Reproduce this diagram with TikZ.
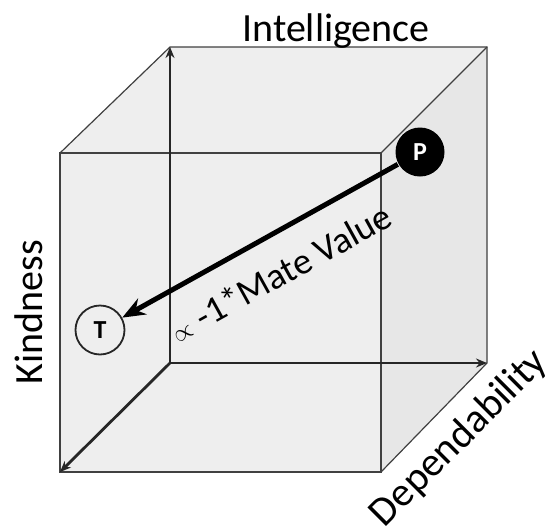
\documentclass[tikz,border=0pt]{standalone}
\usepackage{fontspec}
\setmainfont{Carlito}
\usetikzlibrary{arrows.meta, positioning}
\definecolor{edgegray}{rgb}{0.25, 0.25, 0.25}
\tikzstyle{cubeedge} = [line width=1.2pt, draw=edgegray]
\tikzstyle{axis} = [line width=2.8pt, draw=black!85, -{Stealth[length=11pt, width=9pt]}]
\tikzstyle{arrow} = [line width=5pt, -{Stealth[length=23pt, width=18pt]}]
\tikzstyle{axislabel} = [font=\fontsize{40}{48}\selectfont, inner sep=0pt]
\tikzstyle{pointnode} = [circle, minimum size=49pt, inner sep=0pt, line width=1.8pt, font=\fontsize{26}{30}\selectfont\bfseries]

\begin{document}
\begin{tikzpicture}[x=1pt, y=-1pt]
\useasboundingbox (0,0) rectangle (549,525);

% Cube corners
\coordinate (fTL) at (60,153);
\coordinate (fTR) at (381,153);
\coordinate (fBR) at (381,472);
\coordinate (fBL) at (60,472);
\coordinate (bTL) at (170,47);
\coordinate (bTR) at (487,47);
\coordinate (bBR) at (487,363);
\coordinate (bBL) at (170,363);

% Faces
\fill[gray!13] (fTL) -- (bTL) -- (bTR) -- (bBR) -- (fBR) -- (fBL) -- cycle;
\fill[gray!19] (fTR) -- (bTR) -- (bBR) -- (fBR) -- cycle;

% Edges
\draw[cubeedge] (fTL) rectangle (fBR);
\draw[cubeedge] (fTL) -- (bTL) -- (bTR) -- (bBR) -- (fBR);
\draw[cubeedge] (fTR) -- (bTR);

% Axes
\draw[axis] (bBL) -- (bTL);
\draw[axis] (bBL) -- (bBR);
\draw[axis] (bBL) -- (fBL);

% Labels
\node (intelligence) [axislabel, anchor=base] at (336,41) {Intelligence};
\node (kindness) [axislabel, rotate=90, anchor=base] at (42,312) {Kindness};
\node (dependability) [axislabel, font=\fontsize{41}{48}\selectfont, rotate=45, anchor=base] at (467,446) {Dependability};

% Points
\node (person) [pointnode, fill=black, text=white] at (420,152) {P};
\node (target) [pointnode, draw=black!85] at (100,330) {T};

\draw [arrow] (person) -- (target);
\node (mateValue) [axislabel, font=\fontsize{37}{44}\selectfont, rotate=29, anchor=base] at (287,284) {$\propto$ -1*Mate Value};

\end{tikzpicture}
\end{document}
